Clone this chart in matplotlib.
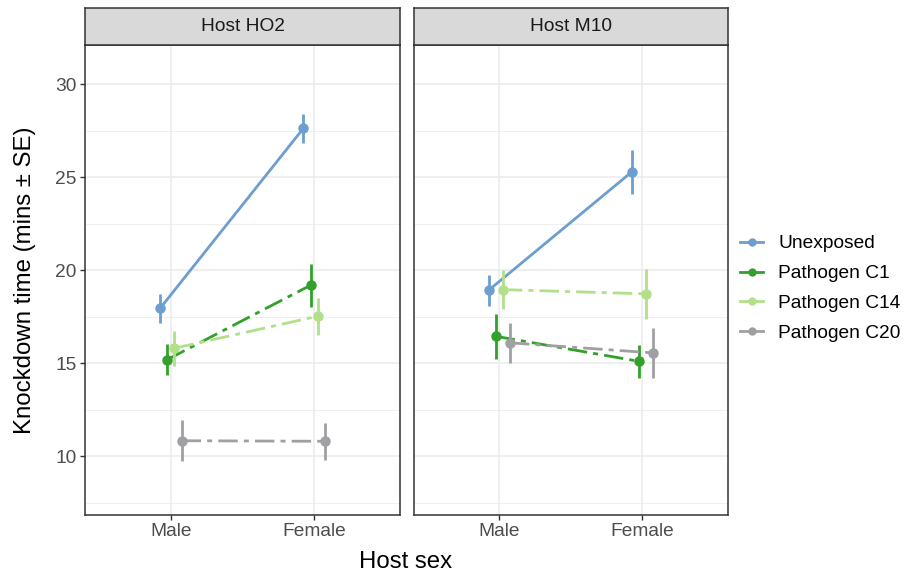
import matplotlib
matplotlib.use("Agg")
import matplotlib.pyplot as plt
from matplotlib.lines import Line2D
import numpy as np

plt.rcParams['font.family'] = ['Liberation Sans', 'DejaVu Sans']

hosts = ["Host HO2", "Host M10"]
sexes = ["Male", "Female"]
groups = ["Unexposed", "Pathogen C1", "Pathogen C14", "Pathogen C20"]
colors = ["#6C9ECF", "#33A02C", "#B2DF8A", "#A0A0A4"]

# mean values [host][group][sex]
means_HO2 = {
    "Unexposed": [17.96, 27.62],
    "Pathogen C1": [15.20, 19.19],
    "Pathogen C14": [15.81, 17.53],
    "Pathogen C20": [10.84, 10.81],
}
se_HO2 = {
    "Unexposed": [0.78, 0.77],
    "Pathogen C1": [0.82, 1.14],
    "Pathogen C14": [0.94, 0.99],
    "Pathogen C20": [1.11, 0.99],
}
means_M10 = {
    "Unexposed": [18.92, 25.27],
    "Pathogen C1": [16.45, 15.11],
    "Pathogen C14": [18.96, 18.73],
    "Pathogen C20": [16.10, 15.56],
}
se_M10 = {
    "Unexposed": [0.85, 1.19],
    "Pathogen C1": [1.21, 0.88],
    "Pathogen C14": [1.05, 1.33],
    "Pathogen C20": [1.09, 1.34],
}
data = [(means_HO2, se_HO2), (means_M10, se_M10)]

W, H = 917, 573
fig = plt.figure(figsize=(W / 100, H / 100), dpi=100)

def fx(px):
    return px / W

def fy(py):
    return 1 - py / H

panel_top, panel_bot = 45, 515
panels_x = [(85, 400), (413.5, 728)]
strip_top = 7.5

small = 13.8
big = 17.3

dash = (0, (7, 2.2, 1.8, 2.2))
styles = ["-", dash, dash, dash]
offsets = [-0.075, -0.025, 0.025, 0.075]

ylim = (6.85, 32.1)
for i, (x0, x1) in enumerate(panels_x):
    ax = fig.add_axes([fx(x0), fy(panel_bot), fx(x1 - x0), (panel_bot - panel_top) / H])
    ax.set_xlim(0.4, 2.6)
    ax.set_ylim(*ylim)
    ax.set_facecolor("white")
    ax.set_yticks([10, 15, 20, 25, 30])
    ax.set_yticks([7.5, 12.5, 17.5, 22.5, 27.5], minor=True)
    ax.set_xticks([1, 2])
    ax.set_xticklabels(sexes)
    ax.grid(True, which="major", color="#EBEBEB", lw=1.1, zorder=0)
    ax.grid(True, which="minor", axis="y", color="#EBEBEB", lw=0.55, zorder=0)
    ax.set_axisbelow(True)
    for s in ax.spines.values():
        s.set_color("#333333")
        s.set_linewidth(1.1)
    ax.tick_params(axis="both", which="major", colors="#333333", labelcolor="#4D4D4D",
                   labelsize=small, length=3.5, width=1.0, pad=2.5)
    ax.tick_params(axis="both", which="minor", length=0)
    if i == 1:
        ax.tick_params(axis="y", labelleft=False, length=0)
    means, ses = data[i]
    xs = np.array([1, 2])
    for g, c, ls, off in zip(groups, colors, styles, offsets):
        m = np.array(means[g])
        s = np.array(ses[g])
        ax.plot(xs + off, m, color=c, lw=2.0, linestyle=ls, zorder=3)
        ax.errorbar(xs + off, m, yerr=s, fmt="none", ecolor=c, elinewidth=2.0, capsize=0, zorder=3)
        ax.plot(xs + off, m, "o", color=c, ms=6.5, zorder=4)
    # strip
    sax = fig.add_axes([fx(x0), fy(panel_top), fx(x1 - x0), (panel_top - strip_top) / H])
    sax.set_xticks([])
    sax.set_yticks([])
    sax.set_facecolor("#D9D9D9")
    for s in sax.spines.values():
        s.set_color("#333333")
        s.set_linewidth(1.1)
    sax.text(0.5, 0.5, hosts[i], ha="center", va="center", fontsize=small, color="#1A1A1A",
             transform=sax.transAxes)

fig.text(fx(406), fy(562), "Host sex", ha="center", va="center", fontsize=big, color="black")
fig.text(fx(25), fy(280), "Knockdown time (mins ± SE)", ha="center", va="center",
         rotation=90, fontsize=big, color="black")

handles = [Line2D([0], [0], color=c, lw=2.0, marker="o", ms=5) for c in colors]
fig.legend(handles, groups, loc="center left", bbox_to_anchor=(fx(740), fy(288.5)),
           frameon=False, fontsize=small, handlelength=1.2, handletextpad=0.8,
           labelspacing=0.65, borderaxespad=0, borderpad=0)

fig.savefig("out.png", dpi=100, facecolor="white")
